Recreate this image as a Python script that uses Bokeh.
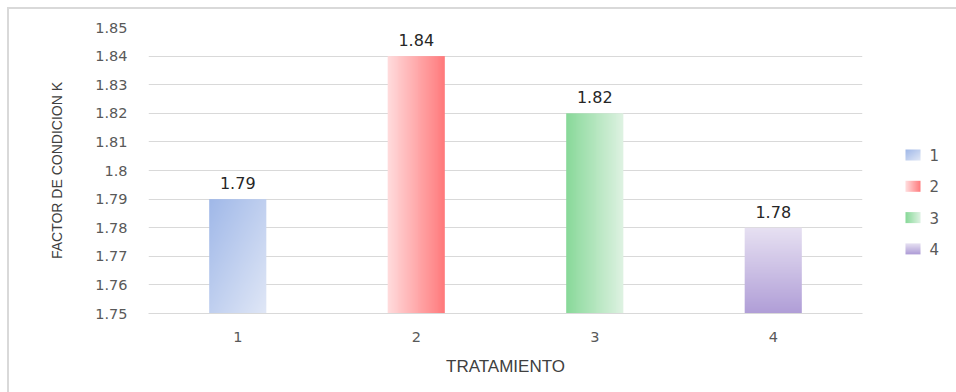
import numpy as np
from bokeh.plotting import figure
from bokeh.models import Range1d, FixedTicker
from bokeh.layouts import row
from bokeh.embed import file_html
from bokeh.resources import INLINE
from bokeh.core.properties import value

# ---- data ----
categories = ["1", "2", "3", "4"]
x_pos = [1, 2, 3, 4]
factor_k = [1.79, 1.84, 1.82, 1.78]
value_labels = ["1.79", "1.84", "1.82", "1.78"]
y_ticks = [1.75, 1.76, 1.77, 1.78, 1.79, 1.80, 1.81, 1.82, 1.83, 1.84, 1.85]
y_tick_labels = ["1.75", "1.76", "1.77", "1.78", "1.79", "1.8", "1.81", "1.82", "1.83", "1.84", "1.85"]
baseline = 1.75
y_top = 1.85
x_title = "TRATAMIENTO"
y_title = "FACTOR DE CONDICION K"

# gradient styles per series: (start colour, end colour, direction)
grad_styles = [
    ((160, 184, 232), (224, 231, 246), "diag"),
    ((255, 219, 220), (255, 122, 124), "h"),
    ((137, 217, 154), (222, 242, 226), "h"),
    ((231, 225, 242), (176, 158, 215), "v"),
]

def gradient(c0, c1, mode, nx=60, ny=120):
    u = np.linspace(0, 1, nx)[None, :] * np.ones((ny, 1))
    v = np.linspace(0, 1, ny)[:, None] * np.ones((1, nx))  # 0 bottom, 1 top
    if mode == "diag":
        t = (u + (1 - v)) / 2
    elif mode == "h":
        t = u
    else:
        t = 1 - v
    img = np.empty((ny, nx), dtype=np.uint32)
    view = img.view(dtype=np.uint8).reshape((ny, nx, 4))
    for k in range(3):
        view[:, :, k] = np.round(c0[k] + (c1[k] - c0[k]) * t).astype(np.uint8)
    view[:, :, 3] = 255
    return img

BAR_W = 0.32
TICK_COLOR = "#595959"
GRID = "#d9d9d9"

p = figure(width=861, height=383, output_backend="svg", toolbar_location=None,
           x_range=Range1d(0.5, 4.5), y_range=Range1d(baseline, y_top),
           min_border_left=139, min_border_right=8, min_border_top=18, min_border_bottom=79)
p.outline_line_color = None
p.background_fill_color = "white"
p.border_fill_color = "white"

for xp, v, st in zip(x_pos, factor_k, grad_styles):
    img = gradient(*st)
    p.image_rgba(image=[img], x=xp - BAR_W / 2, y=baseline, dw=BAR_W, dh=v - baseline)

p.text(x=x_pos, y=factor_k, text=value_labels, text_align="center", text_baseline="alphabetic",
       y_offset=-16, text_font=value("DejaVu Sans"), text_font_size="16px", text_color="#262626")

p.xgrid.grid_line_color = None
p.ygrid.grid_line_color = GRID
p.ygrid.grid_line_width = 1
p.ygrid.ticker = FixedTicker(ticks=y_ticks)

p.yaxis.ticker = FixedTicker(ticks=y_ticks)
p.yaxis.major_label_overrides = {t: l for t, l in zip(y_ticks, y_tick_labels)}
p.xaxis.ticker = FixedTicker(ticks=x_pos)
p.xaxis.major_label_overrides = {x: c for x, c in zip(x_pos, categories)}

for ax in (p.xaxis, p.yaxis):
    ax.major_tick_line_color = None
    ax.minor_tick_line_color = None
    ax.major_label_text_color = TICK_COLOR
    ax.major_label_text_font = "DejaVu Sans"
    ax.major_label_text_font_size = "14.5px"
    ax.axis_label_text_color = "#404040"
    ax.axis_label_text_font_style = "normal"
p.yaxis.axis_line_color = None
p.xaxis.axis_line_color = GRID
p.yaxis.major_label_standoff = 15
p.xaxis.major_label_standoff = 12
p.xaxis.axis_label = x_title
p.yaxis.axis_label = y_title
p.xaxis.axis_label_text_font = "Liberation Sans"
p.xaxis.axis_label_text_font_size = "17px"
p.xaxis.axis_label_standoff = 12
p.yaxis.axis_label_text_font = "Liberation Sans"
p.yaxis.axis_label_text_font_size = "14px"
p.yaxis.axis_label_standoff = 27

# ---- legend panel (its frame is aligned with the main frame) ----
leg = figure(width=86, height=383, output_backend="svg", toolbar_location=None,
             x_range=Range1d(0, 86), y_range=Range1d(0, 286),
             min_border=0, x_axis_location=None, y_axis_location=None)
leg.outline_line_color = None
leg.xgrid.grid_line_color = None
leg.ygrid.grid_line_color = None
leg.border_fill_color = "white"

ENTRY_TOP = 158.5
ENTRY_STEP = 31.3
entry_y = [ENTRY_TOP - ENTRY_STEP * i for i in range(len(categories))]
for yc, st in zip(entry_y, grad_styles):
    leg.image_rgba(image=[gradient(*st, nx=30, ny=22)], x=35, y=yc - 5.5, dw=15, dh=11)
leg.text(x=[59] * len(categories), y=entry_y,
         text=categories, text_align="left", text_baseline="middle",
         text_font=value("DejaVu Sans"), text_font_size="15px", text_color=TICK_COLOR)

layout = row(p, leg, spacing=0,
             styles={"margin-left": "7px", "margin-top": "7px",
                     "border-left": "2px solid #d9d9d9", "border-top": "2px solid #d9d9d9"})

open("out.html", "w").write(file_html(layout, INLINE))
